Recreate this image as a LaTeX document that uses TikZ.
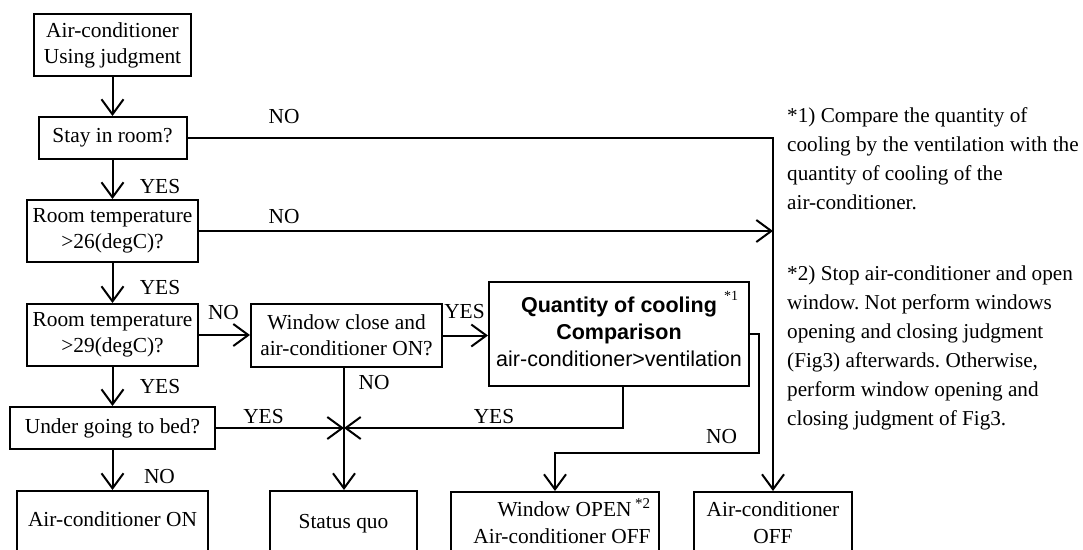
\documentclass[tikz,border=0pt]{standalone}
\usepackage{fontspec}
\setmainfont{Liberation Serif}
\newfontfamily\sansf{Liberation Sans}
\usetikzlibrary{arrows.meta}
\frenchspacing
\begin{document}
\begin{tikzpicture}[x=1pt,y=-1pt,
  box/.style={draw, line width=2pt, inner sep=0pt, align=center, font=\fontsize{21.4}{26}\selectfont},
  bbox/.style={box, anchor=north, text depth=80pt, font=\fontsize{21.4}{27}\selectfont},
  lbl/.style={anchor=base, inner sep=0pt, font=\fontsize{21.4}{26}\selectfont},
  note/.style={anchor=base west, inner sep=0pt, font=\fontsize{21.2}{29}\selectfont},
  arr/.style={line width=2pt, -{Straight Barb[length=15pt,width=22pt]}},
  ln/.style={line width=2pt}]
\useasboundingbox (0,0) rectangle (1083,549);
\clip (0,0) rectangle (1083,549);

% decision and process boxes
\node[box, minimum width=157pt, minimum height=62pt] (start) at (112.5,45) {Air-conditioner\\Using judgment};
\node[box, minimum width=148pt, minimum height=42pt] (stay) at (112.5,138) {Stay in room?};
\node[box, minimum width=171pt, minimum height=62pt] (t26) at (112.5,231) {Room temperature\\>26(degC)?};
\node[box, minimum width=171pt, minimum height=62pt] (t29) at (112.5,335) {Room temperature\\>29(degC)?};
\node[box, minimum width=191pt, minimum height=63pt] (win) at (346.5,335.5) {Window close and\\air-conditioner ON?};
\node[box, minimum width=260pt, minimum height=104pt, font=\sansf\fontsize{21.5}{27}\selectfont] (cmp) at (619,334) {\raisebox{-3pt}{\begin{tabular}{@{}c@{}}\textbf{Quantity of cooling}\\\textbf{Comparison}\\air-conditioner>ventilation\end{tabular}}};
\node[anchor=center, inner sep=0pt, font=\fontsize{14}{16}\selectfont] (s1) at (731,296) {*1};
\node[box, minimum width=205pt, minimum height=42pt] (bed) at (112.5,428) {Under going to bed?};

% result boxes (cut by the lower edge)
\node[bbox, minimum width=191pt, text height=35pt] (acon) at (112.5,490) {Air-conditioner ON};
\node[bbox, minimum width=147pt, text height=37pt] (quo) at (343.5,490) {Status quo};
\node[bbox, minimum width=208pt, text height=24pt] (open) at (555,491) {\hspace*{14pt}\begin{tabular}[t]{@{}r@{}}Window OPEN\,\textsuperscript{*2}\\Air-conditioner OFF\end{tabular}};
\node[bbox, minimum width=158pt, text height=24pt] (off) at (773,491) {\begin{tabular}[t]{@{}c@{}}Air-conditioner\\OFF\end{tabular}};

% connectors
\coordinate (m) at (344,428);
\coordinate (qx) at (623,428);
\coordinate (nr) at (759,453);
\draw[arr] (start.south) -- (stay.north);
\draw[arr] (stay.south) -- (t26.north);
\draw[arr] (t26.south) -- (t29.north);
\draw[arr] (t29.south) -- (bed.north);
\draw[arr] (bed.south) -- (acon.north);
\draw[arr] (stay.east) -| (off.north);
\draw[arr] (t26.east) -- (t26.east -| off.north);
\draw[arr] (t29.east) -- (t29.east -| win.west);
\draw[arr] (win.east) -- (win.east -| cmp.west);
\draw[ln] (win.south -| m) -- (m);
\draw[arr] (m) -- (quo.north -| m);
\draw[arr] (bed.east) -- (m);
\draw[arr] (cmp.south -| qx) |- (m);
\draw[arr] (cmp.east) -| (nr) -| (open.north);

% connector labels
\node[lbl] (l1) at (284,123) {NO};
\node[lbl] (l2) at (160,193) {YES};
\node[lbl] (l3) at (284,223) {NO};
\node[lbl] (l4) at (160,294) {YES};
\node[lbl] (l5) at (223.5,319) {NO};
\node[lbl] (l6) at (464.5,318) {YES};
\node[lbl] (l7) at (374,389) {NO};
\node[lbl] (l8) at (160,393) {YES};
\node[lbl] (l9) at (263.5,423) {YES};
\node[lbl] (l10) at (494,423) {YES};
\node[lbl] (l11) at (721.5,443) {NO};
\node[lbl] (l12) at (159.5,483) {NO};

% notes
\node[note] (note1) at (787,122.7) {\begin{tabular}[t]{@{}l@{}}*1) Compare the quantity of\\cooling by the ventilation with the\\quantity of cooling of the\\air-conditioner.\end{tabular}};
\node[note] (note2) at (787,280) {\begin{tabular}[t]{@{}l@{}}*2) Stop air-conditioner and open\\window. Not perform windows\\opening and closing judgment\\(Fig3) afterwards. Otherwise,\\perform window opening and\\closing judgment of Fig3.\end{tabular}};
\end{tikzpicture}
\end{document}
